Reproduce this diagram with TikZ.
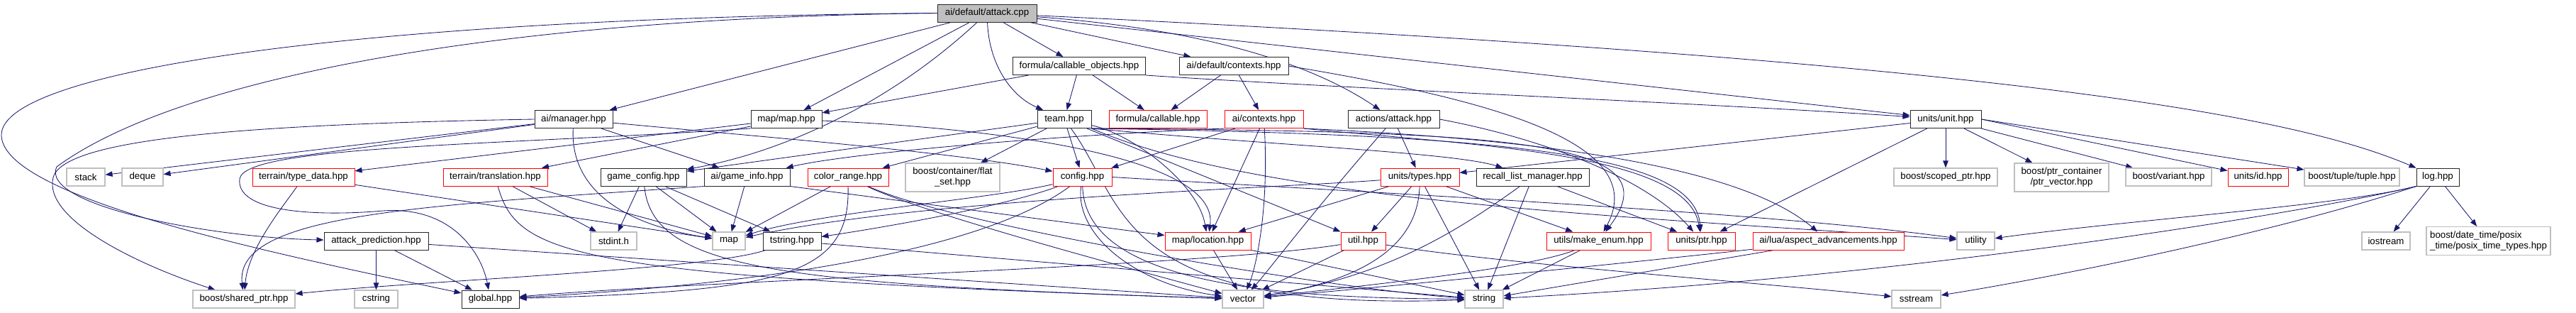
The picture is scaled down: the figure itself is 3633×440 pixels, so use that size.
\documentclass[tikz,border=0pt]{standalone}
\usepackage{fontspec}
\setmainfont{Liberation Sans}
\usetikzlibrary{arrows.meta}
\definecolor{edgec}{HTML}{191970}
\definecolor{grayb}{HTML}{BFBFBF}
\pgfdeclarelayer{bg}
\pgfsetlayers{bg,main}
\begin{document}
\begin{tikzpicture}[x=1pt,y=-1pt,
  box/.style={rectangle, inner sep=0pt, minimum height=25pt, line width=1pt, fill=white, font=\fontsize{13.3}{15}\selectfont, text=black},
  nb/.style={box, draw=black!85},
  nr/.style={box, draw=red},
  ng/.style={box, draw=grayb, line width=1.1pt},
  nroot/.style={box, draw=black!85, fill=grayb},
  two/.style={minimum height=40pt},
  e/.style={draw=edgec, line width=0.85pt, -{Triangle[length=10pt,width=7.5pt]}}
]
\useasboundingbox (0,0) rectangle (3633,440);
% row 0-2
\node[nroot, minimum width=140pt] (root) at (1392,18.5) {ai/default/attack.cpp};
\node[nb, minimum width=187pt] (cobj) at (1522,93) {formula/callable\_objects.hpp};
\node[nb, minimum width=154pt] (dctx) at (1740,93) {ai/default/contexts.hpp};
\node[nb, minimum width=110pt] (mgr) at (809,168) {ai/manager.hpp};
\node[nb, minimum width=100pt] (mapmap) at (1109,168) {map/map.hpp};
\node[nb, minimum width=76pt] (team) at (1501,168) {team.hpp};
\node[nr, minimum width=138pt] (callable) at (1633,168) {formula/callable.hpp};
\node[nr, minimum width=111pt] (actx) at (1782.5,168) {ai/contexts.hpp};
\node[nb, minimum width=129pt] (aatk) at (1965.5,168) {actions/attack.hpp};
\node[nb, minimum width=100pt] (unit) at (2744,168) {units/unit.hpp};
% row 3
\node[ng, minimum width=54pt] (stack) at (121,249.5) {stack};
\node[ng, minimum width=58pt] (deque) at (201,249.5) {deque};
\node[nr, minimum width=144pt] (tdata) at (428,249.5) {terrain/type\_data.hpp};
\node[nr, minimum width=147pt] (trans) at (698.5,249.5) {terrain/translation.hpp};
\node[nb, minimum width=121pt] (gcfg) at (907.5,249.5) {game\_config.hpp};
\node[nb, minimum width=121pt] (ginfo) at (1053.5,249.5) {ai/game\_info.hpp};
\node[nr, minimum width=114pt] (crange) at (1196,249.5) {color\_range.hpp};
\node[ng, two, minimum width=133pt, align=center] (flat) at (1343.5,250) {boost/container/flat\\\_set.hpp};
\node[nr, minimum width=83pt] (config) at (1526.5,249.5) {config.hpp};
\node[nr, minimum width=111pt] (types) at (2002.5,249.5) {units/types.hpp};
\node[nb, minimum width=159pt] (recall) at (2161.5,249.5) {recall\_list\_manager.hpp};
\node[ng, minimum width=146pt] (scoped) at (2744,249.5) {boost/scoped\_ptr.hpp};
\node[ng, two, minimum width=133pt, align=center] (ptrvec) at (2907.5,250) {boost/ptr\_container\\/ptr\_vector.hpp};
\node[ng, minimum width=121pt] (variant) at (3058.5,249.5) {boost/variant.hpp};
\node[nr, minimum width=85pt] (uid) at (3184.5,249.5) {units/id.hpp};
\node[ng, minimum width=134pt] (tuple) at (3317,249.5) {boost/tuple/tuple.hpp};
\node[nb, minimum width=60pt] (log) at (3438,249.5) {log.hpp};
% row 4
\node[nb, minimum width=147pt] (apred) at (530.5,339.5) {attack\_prediction.hpp};
\node[ng, minimum width=65pt] (stdint) at (865.5,339.5) {stdint.h};
\node[ng, minimum width=46pt] (map) at (1028,339.5) {map};
\node[nb, minimum width=82pt] (tstring) at (1117,339.5) {tstring.hpp};
\node[nr, minimum width=121pt] (loc) at (1703.5,339.5) {map/location.hpp};
\node[nr, minimum width=63pt] (util) at (1922.5,339.5) {util.hpp};
\node[nr, minimum width=147pt] (enum) at (2254.5,339.5) {utils/make\_enum.hpp};
\node[nr, minimum width=95pt] (uptr) at (2399.5,339.5) {units/ptr.hpp};
\node[nr, minimum width=213pt] (asp) at (2578.5,339.5) {ai/lua/aspect\_advancements.hpp};
\node[ng, minimum width=53pt] (utility) at (2786.5,339.5) {utility};
\node[ng, minimum width=68pt] (iostream) at (3365,339.5) {iostream};
\node[ng, two, minimum width=175pt, align=left] (posix) at (3509.5,339.5) {boost/date\_time/posix\\\_time/posix\_time\_types.hpp};
% row 5
\node[ng, minimum width=144pt] (shptr) at (344,421.5) {boost/shared\_ptr.hpp};
\node[ng, minimum width=61pt] (cstring) at (530.5,421.5) {cstring};
\node[nb, minimum width=81pt] (global) at (691.5,421.5) {global.hpp};
\node[ng, minimum width=58pt] (vector) at (1753,421.5) {vector};
\node[ng, minimum width=54pt] (string) at (2093,421.5) {string};
\node[ng, minimum width=69pt] (sstream) at (2702.5,421.5) {sstream};

\begin{pgfonlayer}{bg}
% root
\draw[e] (root) -- (mgr);
\draw[e] (root) -- (mapmap);
\draw[e] (root) .. controls (1250,150) and (1100,215) .. (gcfg);
\draw[e] (root) -- (cobj);
\draw[e] (root) -- (dctx);
\draw[e] (root) .. controls (1395,90) and (1425,135) .. (team);
\draw[e] (root) .. controls (1750,45) and (1880,110) .. (aatk);
\draw[e] (root) -- (unit);
\draw[e] (root) .. controls (2900,90) and (3250,170) .. (log);
\draw[e] (root.west) .. controls (700,25) and (250,110) .. (80,235) .. controls (55,290) and (300,335) .. (apred);
\draw[e] (root.west) .. controls (500,25) and (2,100) .. (2,190) .. controls (2,280) and (400,360) .. (global);
% cobj
\draw[e] (cobj) -- (mapmap);
\draw[e] (cobj) -- (team);
\draw[e] (cobj) -- (callable);
\draw[e] (cobj.south east) .. controls (1900,125) and (2400,145) .. (unit);
% dctx
\draw[e] (dctx) -- (callable);
\draw[e] (dctx) -- (actx);
\draw[e] (dctx.east) .. controls (2100,140) and (2330,200) .. (enum);
% mgr
\draw[e] (mgr) -- (stack);
\draw[e] (mgr) -- (deque);
\draw[e] (mgr.west) .. controls (350,175) and (90,195) .. (75,250) .. controls (60,310) and (200,375) .. (shptr);
\draw[e] (mgr) -- (ginfo);
\draw[e] (mgr) .. controls (805,240) and (840,310) .. (map);
\draw[e] (mgr) .. controls (1100,195) and (1350,215) .. (config);
% mapmap
\draw[e] (mapmap) -- (tdata);
\draw[e] (mapmap) -- (trans);
\draw[e] (mapmap.south west) .. controls (700,205) and (345,205) .. (338,252) .. controls (332,300) and (450,305) .. (540,297) .. controls (640,290) and (680,360) .. (global);
\draw[e] (mapmap) .. controls (1400,180) and (1720,220) .. (loc);
% team
\draw[e] (team) -- (flat);
\draw[e] (team) -- (config);
\draw[e] (team) -- (crange);
\draw[e] (team) -- (gcfg);
\draw[e] (team.south east) .. controls (1800,205) and (2050,215) .. (recall);
\draw[e] (team) .. controls (1600,190) and (1690,260) .. (loc);
\draw[e] (team) -- (util);
\draw[e] (team.south east) .. controls (2150,190) and (2390,220) .. (uptr);
\draw[e] (team.south east) .. controls (2150,185) and (2360,200) .. (enum);
\draw[e] (team) .. controls (1590,290) and (1570,440) .. (string);
\draw[e] (team.south east) .. controls (1780,285) and (2300,305) .. (utility);
% config
\draw[e] (config) .. controls (1400,280) and (1150,300) .. (map);
\draw[e] (config) .. controls (1420,290) and (1250,320) .. (tstring);
\draw[e] (config) .. controls (1515,330) and (1600,400) .. (vector);
\draw[e] (config) .. controls (1530,400) and (1800,420) .. (string);
\draw[e] (config) .. controls (1350,380) and (900,410) .. (global);
\draw[e] (config.east) .. controls (2000,275) and (2500,300) .. (utility);
% gcfg
\draw[e] (gcfg) -- (stdint);
\draw[e] (gcfg) -- (map);
\draw[e] (gcfg) -- (tstring);
\draw[e] (gcfg) .. controls (920,380) and (1100,400) .. (vector);
% ginfo
\draw[e] (ginfo) -- (map);
\draw[e] (ginfo.south east) -- (loc);
\draw[e] (ginfo.south west) .. controls (600,290) and (330,300) .. (shptr);
% crange
\draw[e] (crange) -- (map);
\draw[e] (crange.south) .. controls (1200,390) and (1100,410) .. (global);
\draw[e] (crange) .. controls (1300,300) and (1600,380) .. (vector);
\draw[e] (crange) .. controls (1350,320) and (1900,410) .. (string);
% tdata
\draw[e] (tdata) .. controls (400,290) and (350,350) .. (shptr);
\draw[e] (tdata) -- (map);
% trans
\draw[e] (trans) -- (stdint);
\draw[e] (trans) -- (map);
\draw[e] (trans) .. controls (730,360) and (800,390) .. (vector);
% apred
\draw[e] (apred) -- (cstring);
\draw[e] (apred) -- (global);
\draw[e] (apred) -- (vector);
% tstring
\draw[e] (tstring) .. controls (1000,380) and (600,395) .. (shptr);
\draw[e] (tstring) -- (string);
% loc
\draw[e] (loc) -- (vector);
\draw[e] (loc) -- (string);
% util
\draw[e] (util) -- (vector);
\draw[e] (util) .. controls (1700,375) and (1000,395) .. (global);
\draw[e] (util) .. controls (2100,370) and (2500,400) .. (sstream);
% types
\draw[e] (types) -- (util);
\draw[e] (types) -- (string);
\draw[e] (types) -- (enum);
\draw[e] (types) -- (loc);
\draw[e] (types) .. controls (1800,265) and (1300,280) .. (map);
\draw[e] (types) .. controls (2000,330) and (1950,390) .. (vector);
% recall
\draw[e] (recall) .. controls (2050,330) and (1950,390) .. (vector);
\draw[e] (recall) -- (string);
\draw[e] (recall) -- (uptr);
% actx
\draw[e] (actx) -- (config);
\draw[e] (actx.south west) .. controls (1500,190) and (1200,215) .. (ginfo);
\draw[e] (actx) -- (loc);
\draw[e] (actx) .. controls (1790,300) and (1770,380) .. (vector);
\draw[e] (actx.south east) .. controls (2080,205) and (2380,215) .. (uptr);
\draw[e] (actx.south east) .. controls (2150,195) and (2450,230) .. (asp);
% aatk
\draw[e] (aatk) -- (types);
\draw[e] (aatk) .. controls (1850,300) and (1790,380) .. (vector);
\draw[e] (aatk.east) .. controls (2200,200) and (2330,260) .. (uptr);
% unit
\draw[e] (unit) -- (types);
\draw[e] (unit) -- (uptr);
\draw[e] (unit) -- (scoped);
\draw[e] (unit) -- (ptrvec);
\draw[e] (unit) -- (variant);
\draw[e] (unit.east) -- (uid);
\draw[e] (unit.east) -- (tuple);
% log
\draw[e] (log) -- (iostream);
\draw[e] (log) -- (posix);
\draw[e] (log.south west) .. controls (3300,290) and (3000,310) .. (utility);
\draw[e] (log.south west) .. controls (3250,300) and (2700,390) .. (string);
\draw[e] (log.south west) .. controls (3200,330) and (2900,390) .. (sstream);
% asp
\draw[e] (asp) .. controls (2300,370) and (2000,400) .. (vector);
\draw[e] (asp) -- (string);
% enum
\draw[e] (enum) -- (string);
\draw[e] (enum) .. controls (2150,380) and (1900,405) .. (vector);
\end{pgfonlayer}
\end{tikzpicture}
\end{document}
